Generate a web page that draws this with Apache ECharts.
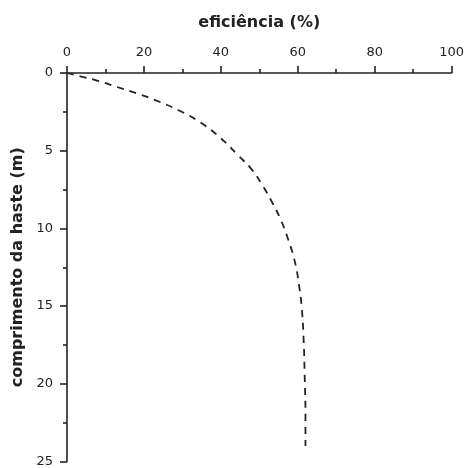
<!DOCTYPE html>
<html>

<head>
    <meta charset="utf-8">
    <title>eficiência x comprimento da haste</title>
    <style>
        html, body { margin: 0; padding: 0; background: #fff; }
        #main { width: 467px; height: 468px; }
    </style>
</head>

<body>
    <div id="main"></div>
    <script type="text/javascript" src="https://cdn.jsdelivr.net/npm/echarts@6/dist/echarts.min.js"></script>
    <script type="text/javascript">
    // dados: eficiência (%) x comprimento da haste (m)
    var eficiencia = [0, 4, 8, 13, 18, 24, 29, 34.5, 40, 44.5, 48, 51, 53.5, 55.5, 57.5, 59.3, 60.3, 61, 61.5, 61.8, 62, 62];
    var comprimento = [0, 0.25, 0.5, 0.9, 1.3, 1.85, 2.4, 3.15, 4.2, 5.3, 6.2, 7.3, 8.4, 9.4, 10.7, 12.2, 13.6, 15, 17, 19.5, 22, 24];

    var xTitulo = 'eficiência (%)';
    var yTitulo = 'comprimento da haste (m)';

    var pontos = eficiencia.map(function (v, i) { return [v, comprimento[i]]; });

    var corEixo = '#222';
    var fonte = 'DejaVu Sans';

    var myChart = echarts.init(document.getElementById('main'));
    var option = {
        animation: false,
        grid: { left: 67, right: 14, top: 73, bottom: 6, containLabel: false },
        xAxis: {
            type: 'value',
            position: 'top',
            min: 0,
            max: 100,
            interval: 20,
            name: xTitulo,
            nameLocation: 'middle',
            nameGap: 42,
            nameTextStyle: { fontFamily: fonte, fontWeight: 'bold', fontSize: 16, color: corEixo },
            axisLine: { show: true, lineStyle: { color: corEixo, width: 1.6 } },
            axisTick: { show: true, length: 7, lineStyle: { color: corEixo, width: 1.6 } },
            minorTick: { show: true, splitNumber: 2, length: 4, lineStyle: { color: corEixo, width: 1.6 } },
            axisLabel: { fontFamily: fonte, fontSize: 13, color: corEixo, margin: 14 },
            splitLine: { show: false }
        },
        yAxis: {
            type: 'value',
            inverse: true,
            min: 0,
            max: 25,
            interval: 5,
            name: yTitulo,
            nameLocation: 'middle',
            nameGap: 37,
            nameTextStyle: { fontFamily: fonte, fontWeight: 'bold', fontSize: 16, color: corEixo },
            axisLine: { show: true, lineStyle: { color: corEixo, width: 1.6 } },
            axisTick: { show: true, length: 7, lineStyle: { color: corEixo, width: 1.6 } },
            minorTick: { show: true, splitNumber: 2, length: 4, lineStyle: { color: corEixo, width: 1.6 } },
            axisLabel: { fontFamily: fonte, fontSize: 13, color: corEixo, margin: 14 },
            splitLine: { show: false }
        },
        series: [
            {
                type: 'line',
                data: pontos,
                smooth: true,
                showSymbol: false,
                lineStyle: { color: '#222', width: 1.8, type: [7, 6] }
            }
        ]
    };
    myChart.setOption(option);
    </script>
</body>

</html>
